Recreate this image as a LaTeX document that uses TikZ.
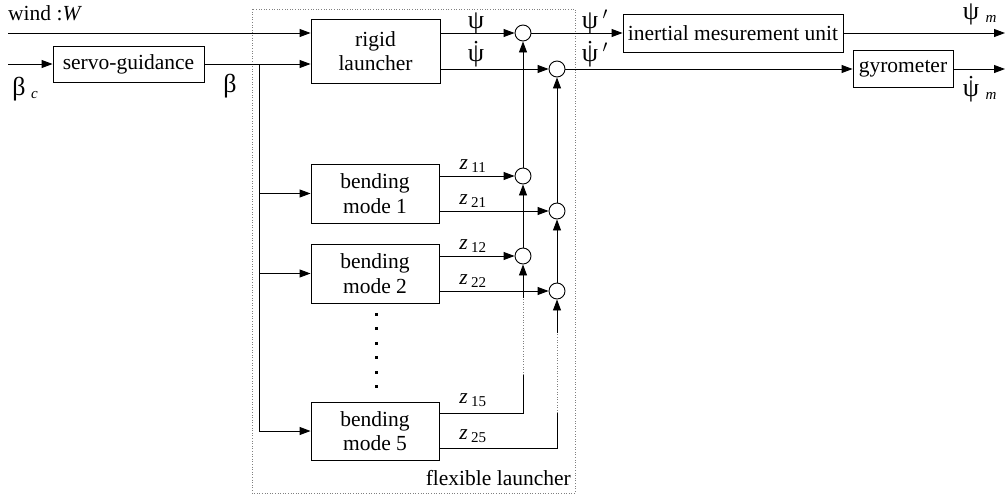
\documentclass[tikz,border=0pt]{standalone}
\usepackage{fontspec}
\setmainfont{Liberation Serif}
\usetikzlibrary{arrows.meta}
\newcommand\gk{\fontsize{26}{26}\selectfont}
\begin{document}
\begin{tikzpicture}[x=1pt,y=-1pt,
  every node/.style={font=\fontsize{21.5}{24.5}\selectfont, inner sep=0pt},
  blk/.style={draw, line width=0.9pt, align=center},
  sum/.style={draw, circle, minimum size=16pt, line width=0.9pt},
  conn/.style={line width=0.9pt},
  arr/.style={conn, -{Triangle[length=11pt,width=8pt]}},
  dotl/.style={dotted, line width=0.6pt, gray},
  accdot/.style={radius=1.5pt},
  gr/.style={font=\gk},
  sfx/.style={anchor=base west}]
\useasboundingbox (0,0) rectangle (1008,499);
% flexible launcher frame
\draw[dotl] (252,9) rectangle (575,493);
% blocks
\node[blk, minimum width=151pt, minimum height=36pt] (servo) at (128.5,64) {servo-guidance};
\node[blk, minimum width=129pt, minimum height=64pt] (rigid) at (375.5,51) {rigid\\launcher};
\node[blk, minimum width=128pt, minimum height=59pt] (b1) at (375,193.5) {bending\\mode 1};
\node[blk, minimum width=128pt, minimum height=59pt] (b2) at (375,273.5) {bending\\mode 2};
\node[blk, minimum width=128pt, minimum height=58pt] (b5) at (375,431) {bending\\mode 5};
\node[blk, minimum width=220pt, minimum height=38pt] (imu) at (733,33) {inertial mesurement unit};
\node[blk, minimum width=100pt, minimum height=37pt] (gyro) at (903,69) {gyrometer};
% summing junctions
\node[sum] (s1) at (523,33) {};
\node[sum] (s2) at (557,69) {};
\node[sum] (s3) at (523,176) {};
\node[sum] (s4) at (557,211) {};
\node[sum] (s5) at (523,256) {};
\node[sum] (s6) at (557,291) {};
% coordinates
\coordinate (win) at (8,33);
\coordinate (bcin) at (8,64);
\coordinate (br) at (259,64);
\coordinate (z15) at (523,413);
\coordinate (z25) at (557,448);
\coordinate (d1a) at (523,375);
\coordinate (d1b) at (523,298);
\coordinate (d2a) at (557,413);
\coordinate (d2b) at (557,333);
\coordinate (o1) at (1005,33);
\coordinate (o2) at (1005,69);
% inputs
\draw[arr] (win) -- (win -| rigid.west);
\draw[arr] (bcin) -- (servo.west);
\draw[arr] (servo.east) -- (servo.east -| rigid.west);
\draw[arr] (br) |- (b5.west);
\draw[arr] (br |- b1.west) -- (b1.west);
\draw[arr] (br |- b2.west) -- (b2.west);
% rigid outputs
\draw[arr] (rigid.east |- s1) -- (s1.west);
\draw[arr] (rigid.east |- s2) -- (s2.west);
% mode outputs
\draw[arr] (b1.east |- s3) -- (s3.west);
\draw[arr] (b1.east |- s4) -- (s4.west);
\draw[arr] (b2.east |- s5) -- (s5.west);
\draw[arr] (b2.east |- s6) -- (s6.west);
\draw[conn] (b5.east |- z15) -- (z15) -- (d1a);
\draw[dotl] (d1a) -- (d1b);
\draw[arr] (d1b) -- (s5.south);
\draw[conn] (b5.east |- z25) -- (z25) -- (d2a);
\draw[dotl] (d2a) -- (d2b);
\draw[arr] (d2b) -- (s6.south);
% chains
\draw[arr] (s5.north) -- (s3.south);
\draw[arr] (s3.north) -- (s1.south);
\draw[arr] (s6.north) -- (s4.south);
\draw[arr] (s4.north) -- (s2.south);
% outputs
\draw[arr] (s1.east) -- (imu.west);
\draw[arr] (s2.east) -- (gyro.west);
\draw[arr] (imu.east) -- (o1);
\draw[arr] (gyro.east) -- (o2);
% ellipsis dots
\foreach \y in {314,328.5,343,357.5,372,386}
  \fill (374.5,\y-1.5) rectangle ++(3,3);
% labels
\node[anchor=west] (lw) at (8,13) {wind :\textit{W}};
\node[gr] (lbc) at (19,89) {β};
\node[sfx] (lbcs) at ([xshift=5pt]lbc.base east) {\textsubscript{\itshape c}};
\node[gr] (lb) at (230,86) {β};
\node[gr] (lpsi) at (476,23) {ψ};
\node[gr] (lpsid) at (476,56) {ψ};
\fill[accdot] ([yshift=3pt]lpsid.north) circle;
\node[gr] (lpsip) at (590,23) {ψ};
\node[sfx, gr] (lpsipp) at ([xshift=4pt]lpsip.base east) {$'$};
\node[gr] (lpsidp) at (590,56) {ψ};
\node[sfx, gr] (lpsidpp) at ([xshift=4pt]lpsidp.base east) {$'$};
\fill[accdot] ([yshift=3pt]lpsidp.north) circle;
\node[gr] (lpsim) at (971,14) {ψ};
\node[sfx] (lpsims) at ([xshift=6pt]lpsim.base east) {\textsubscript{\itshape m}};
\node[gr] (lpsidm) at (971,91) {ψ};
\node[sfx] (lpsidms) at ([xshift=6pt]lpsidm.base east) {\textsubscript{\itshape m}};
\fill[accdot] ([yshift=3pt]lpsidm.north) circle;
\node (lz11) at (473,166) {\textit{z}\,\textsubscript{11}};
\node (lz21) at (473,201) {\textit{z}\,\textsubscript{21}};
\node (lz12) at (473,246) {\textit{z}\,\textsubscript{12}};
\node (lz22) at (473,281) {\textit{z}\,\textsubscript{22}};
\node (lz15) at (473,400) {\textit{z}\,\textsubscript{15}};
\node (lz25) at (473,436) {\textit{z}\,\textsubscript{25}};
\node[anchor=east] (lfl) at (571,478) {flexible launcher};
\end{tikzpicture}
\end{document}
